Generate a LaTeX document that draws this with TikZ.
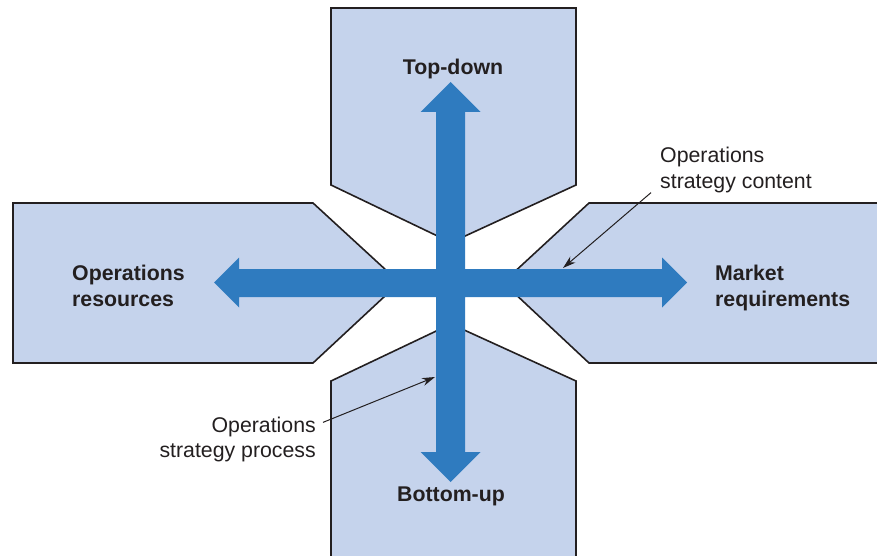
\documentclass[tikz,border=0pt]{standalone}
\usepackage{fontspec}
\setmainfont{Liberation Sans}
\usetikzlibrary{arrows.meta}
\definecolor{panel}{HTML}{C5D3EC}
\definecolor{flow}{HTML}{2F7BBF}
\definecolor{ink}{HTML}{231F20}
\tikzset{
  panelshape/.style={fill=panel, draw=ink, line width=1.6pt, line join=miter},
  flowshape/.style={fill=flow, draw=none},
  boldlabel/.style={font=\fontsize{21.3}{25.5}\selectfont\bfseries, text=ink, inner sep=0pt},
  notelabel/.style={font=\fontsize{21.3}{25.5}\selectfont, text=ink, inner sep=0pt},
  pointer/.style={draw=ink, line width=1pt, -{Stealth[length=13pt,width=8pt]}}
}
\begin{document}
\begin{tikzpicture}[x=1pt,y=-1pt]
\clip (0,0) rectangle (877,556);
% panels
\draw[panelshape] (331,8) -- (576,8) -- (576,185) -- (451,242.5) -- (331,185) -- cycle;
\draw[panelshape] (331,381) -- (451,324) -- (576,381) -- (576,575) -- (331,575) -- cycle;
\draw[panelshape] (13,203) -- (313,203) -- (399.5,282.5) -- (313,363) -- (13,363) -- cycle;
\draw[panelshape] (895,203) -- (589,203) -- (503,282.5) -- (589,363) -- (895,363) -- cycle;
% cross of arrows
\fill[flowshape] (450.5,82) -- (480.5,112) -- (465,112) -- (465,269) -- (662,269) -- (662,257.5)
  -- (687,282.5) -- (662,307.5) -- (662,297) -- (465,297) -- (465,452) -- (480.5,452)
  -- (450.5,482) -- (420.5,452) -- (436,452) -- (436,297) -- (239,297) -- (239,307.5)
  -- (214,282.5) -- (239,257.5) -- (239,269) -- (436,269) -- (436,112) -- (420.5,112) -- cycle;
% labels (base anchor of a two-line node is the baseline of its last line)
\node[boldlabel, anchor=base] (topdown) at (453,75) {Top-down};
\node[boldlabel, anchor=base] (bottomup) at (451,501.5) {Bottom-up};
\node[boldlabel, anchor=base west, align=left] (resources) at (72,306) {Operations\\resources};
\node[boldlabel, anchor=base west, align=left] (market) at (715,306) {Market\\requirements};
\node[notelabel, anchor=base west, align=left] (content) at (660,188) {Operations\\strategy content};
\node[notelabel, anchor=base east, align=right] (process) at (316,457.5) {Operations\\strategy process};
% pointers
\coordinate (contentpt) at (563,268);
\coordinate (processpt) at (435,377);
\draw[pointer] ([xshift=-9pt]content.south west) -- (contentpt);
\draw[pointer] ([shift={(7pt,-6pt)}]process.north east) -- (processpt);
\end{tikzpicture}
\end{document}
